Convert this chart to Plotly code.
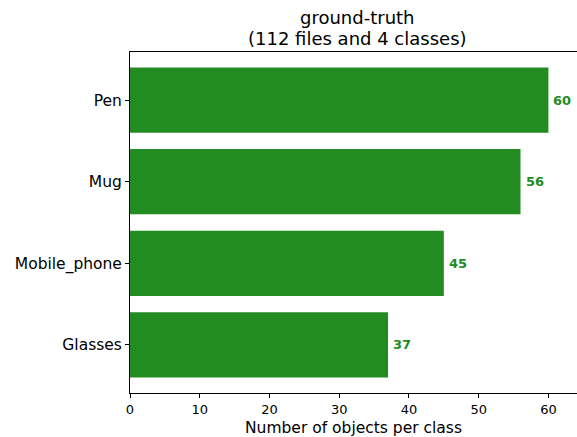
import plotly.graph_objects as go

# Ground-truth object counts per class
classes = ["Glasses", "Mobile_phone", "Mug", "Pen"]
counts = [37, 45, 56, 60]
title_lines = ["ground-truth", "(112 files and 4 classes)"]

bar_color = "#228B22"
font_family = "DejaVu Sans, sans-serif"

fig = go.Figure()
fig.add_trace(go.Bar(
    x=counts,
    y=classes,
    orientation="h",
    width=0.8,
    marker=dict(color=bar_color, line=dict(width=0)),
    cliponaxis=False,
    hoverinfo="skip",
))

# Bold value labels just right of each bar end
for cls, v in zip(classes, counts):
    fig.add_annotation(
        text=f"<b>{v}</b>",
        x=v, y=cls,
        xref="x", yref="y",
        xanchor="left", yanchor="middle",
        xshift=3,
        showarrow=False,
        font=dict(size=13, family=font_family, color=bar_color),
    )

# Two-line centred title above the plot area
for i, line in enumerate(title_lines):
    fig.add_annotation(
        text=line,
        xref="paper", yref="paper",
        x=0.508, y=1,
        yshift=35 - 21 * i,
        xanchor="center", yanchor="middle",
        showarrow=False,
        font=dict(size=18, family=font_family, color="#000"),
    )

fig.update_layout(
    width=577,
    height=437,
    margin=dict(l=130, r=0, t=52, b=44),
    paper_bgcolor="white",
    plot_bgcolor="white",
    showlegend=False,
    font=dict(family=font_family, color="#000"),
    bargap=0.2,
)

fig.update_xaxes(
    range=[0, 64.1],
    tickvals=[0, 10, 20, 30, 40, 50, 60],
    ticks="outside",
    ticklen=4,
    tickcolor="#000",
    tickfont=dict(size=13, family=font_family),
    showgrid=False,
    zeroline=False,
    showline=True,
    linecolor="#000",
    linewidth=1,
    mirror=True,
    title=dict(text="Number of objects per class", font=dict(size=15.5, family=font_family), standoff=6),
)

fig.update_yaxes(
    range=[-0.59, 3.59],
    ticks="outside",
    ticklen=4,
    tickcolor="#000",
    tickfont=dict(size=15.5, family=font_family),
    showgrid=False,
    zeroline=False,
    showline=True,
    linecolor="#000",
    linewidth=1,
    mirror=False,
)

fig.write_html("out.html")
